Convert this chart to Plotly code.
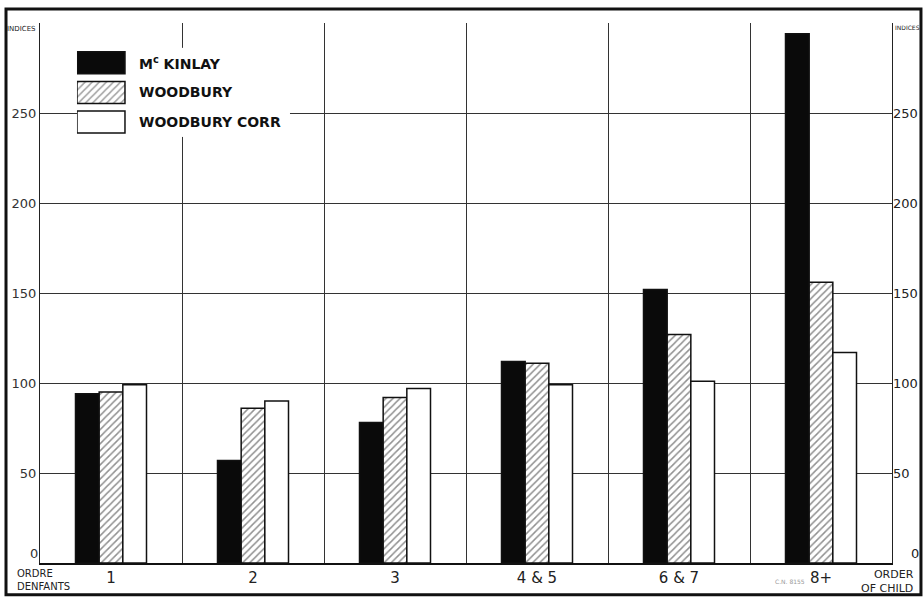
import plotly.graph_objects as go

# order of child (x categories)
categories = ['1', '2', '3', '4 & 5', '6 & 7', '8+']

# indices
mckinlay = [94, 57, 78, 112, 152, 294]
woodbury = [95, 86, 92, 111, 127, 156]
woodbury_corr = [99, 90, 97, 99, 101, 117]

y_ticks = [0, 50, 100, 150, 200, 250, 300]
y_labels = ['', '50', '100', '150', '200', '250', '']

legend_names = ['M<sup>c</sup> KINLAY', 'WOODBURY', 'WOODBURY CORR']
legend_swatch = [1, 1, 1]

xpos = list(range(len(categories)))
bar_line = dict(color='#111', width=1.5)
hatch = dict(shape='/', fgcolor='#222', bgcolor='white', size=5, solidity=0.3)

fig = go.Figure()

fig.add_trace(go.Bar(x=xpos, y=mckinlay, name='McKinlay',
                     marker=dict(color='#0a0a0a', line=bar_line)))
fig.add_trace(go.Bar(x=xpos, y=woodbury, name='Woodbury',
                     marker=dict(color='white', line=bar_line, pattern=hatch)))
fig.add_trace(go.Bar(x=xpos, y=woodbury_corr, name='Woodbury corr',
                     marker=dict(color='white', line=bar_line)))

# empty trace so the right-hand index axis gets drawn
fig.add_trace(go.Scatter(x=xpos, y=mckinlay, yaxis='y3', mode='none',
                         hoverinfo='skip', showlegend=False))

# legend drawn as a small inset of horizontal bars
fig.add_trace(go.Bar(
    x=legend_swatch, y=legend_names, orientation='h',
    xaxis='x2', yaxis='y2', showlegend=False, hoverinfo='skip',
    marker=dict(color=['#0a0a0a', 'white', 'white'], line=bar_line,
                pattern=dict(shape=['', '/', ''], fgcolor='#222', bgcolor='white',
                             size=5, solidity=0.3)),
    width=0.74,
))

for name in legend_names:
    fig.add_annotation(x=1.25, y=name, xref='x2', yref='y2', text=name,
                       showarrow=False, xanchor='left',
                       font=dict(family='DejaVu Sans', size=14, color='#111', weight='bold'))

grid = dict(showgrid=True, gridcolor='#333', gridwidth=1)

fig.update_layout(
    width=924, height=600,
    margin=dict(l=40, r=32, t=23, b=37, autoexpand=False),
    paper_bgcolor='white', plot_bgcolor='white',
    barmode='group', bargap=0.5, bargroupgap=0,
    showlegend=False,
    font=dict(family='DejaVu Sans', size=13, color='#222'),
    xaxis=dict(
        range=[-0.5, 5.5], tickmode='array', tickvals=xpos, ticktext=categories,
        showgrid=False, zeroline=False, ticks='',
        showline=True, linecolor='#111', linewidth=1.5,
        tickfont=dict(size=15, color='#222'),
        minor=dict(tickvals=[0.5, 1.5, 2.5, 3.5, 4.5], showgrid=True,
                   gridcolor='#333', gridwidth=1, ticks=''),
    ),
    yaxis=dict(
        range=[0, 300], tickmode='array', tickvals=y_ticks, ticktext=y_labels,
        zeroline=False, ticks='', showline=True, linecolor='#222', linewidth=1,
        mirror=True, tickfont=dict(size=13, color='#333'), **grid,
    ),
    yaxis3=dict(
        range=[0, 300], overlaying='y', side='right', tickmode='array',
        tickvals=y_ticks, ticktext=y_labels, showgrid=False, zeroline=False,
        ticks='', tickfont=dict(size=13, color='#222'),
    ),
    xaxis2=dict(domain=[0.0434, 0.2934], range=[0, 4.4375], visible=False,
                fixedrange=True, anchor='y2'),
    yaxis2=dict(domain=[0.789, 0.954], visible=False, autorange='reversed',
                fixedrange=True, anchor='x2'),
)

# zero labels sit a little above the baseline, as in the original
fig.add_annotation(x=0, y=0, xref='paper', yref='paper', text='0',
                   showarrow=False, xanchor='right', yanchor='bottom',
                   font=dict(size=13, color='#333'))
fig.add_annotation(x=1.02, y=0, xref='paper', yref='paper', text='0',
                   showarrow=False, xanchor='left', yanchor='bottom',
                   font=dict(size=13, color='#222'))

# axis captions
fig.add_annotation(x=-0.002, y=1.0, xref='paper', yref='paper', text='INDICES',
                   showarrow=False, xanchor='right', yanchor='top',
                   font=dict(size=7, color='#222'))
fig.add_annotation(x=1.002, y=1.0, xref='paper', yref='paper', text='INDICES',
                   showarrow=False, xanchor='left', yanchor='top', borderpad=0,
                   font=dict(size=6, color='#222'))
fig.add_annotation(x=-0.0293, y=-0.006, xref='paper', yref='paper',
                   text='ORDRE<br>DENFANTS', showarrow=False, xanchor='left',
                   yanchor='top', align='left',
                   font=dict(size=10, color='#222'))
fig.add_annotation(x=1.028, y=-0.006, xref='paper', yref='paper',
                   text='ORDER<br>OF CHILD', showarrow=False, xanchor='right',
                   yanchor='top', align='right',
                   font=dict(size=11, color='#222'))
fig.add_annotation(x=0.9, y=-0.045, xref='paper', yref='paper', text='C.N. 8155',
                   showarrow=False, font=dict(size=6, color='#999'))

# outer frame of the figure
fig.add_shape(type='rect', xref='paper', yref='paper',
              x0=-0.0399, x1=1.034, y0=-0.059, y1=1.026,
              line=dict(color='#111', width=3))

fig.write_html('out.html', config={'displayModeBar': False},
               post_script="document.body.style.margin='0';")
